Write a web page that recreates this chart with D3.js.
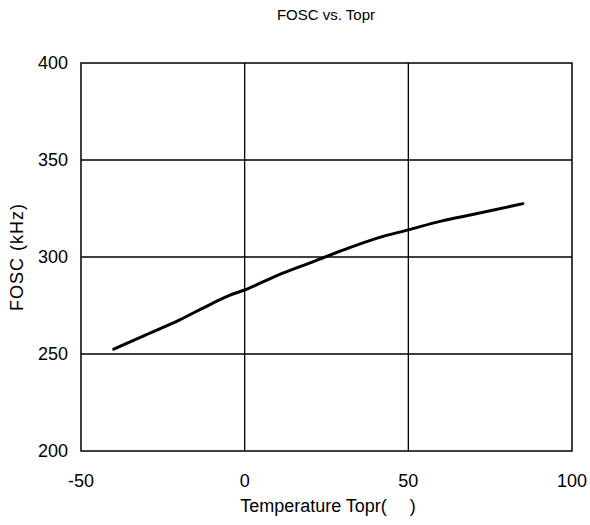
<!DOCTYPE html>
<html lang="en">
<head>
    <meta charset="UTF-8">
    <title>FOSC vs. Topr</title>
    <script src="https://d3js.org/d3.v7.min.js"></script>
    <style>
        body { margin: 0; background: #fff; font-family: 'Liberation Sans', Arial, sans-serif; }
        .grid line { stroke: #000; stroke-width: 1.3px; }
        .frame { fill: none; stroke: #000; stroke-width: 1.5px; }
        .line { fill: none; stroke: #000; stroke-width: 3px; stroke-linejoin: round; stroke-linecap: round; }
        .tick-label { font-size: 18px; fill: #000; }
    </style>
</head>
<body>
<svg id="chart" width="590" height="525"></svg>
<script>
    // data
    var temps = [-40, -30, -20, -10, -5, 0, 10, 20, 30, 40, 50, 60, 70, 85];
    var fosc  = [252.5, 260, 267.5, 276, 280, 283, 290.5, 297, 303.5, 309.5, 314, 318.5, 322, 327.5];
    var xTicks = [-50, 0, 50, 100];
    var yTicks = [200, 250, 300, 350, 400];

    var svg = d3.select("#chart"),
        margin = {top: 63, right: 18, bottom: 74, left: 81},
        width = +svg.attr("width") - margin.left - margin.right,
        height = +svg.attr("height") - margin.top - margin.bottom;

    var x = d3.scaleLinear().domain([-50, 100]).range([0, width]),
        y = d3.scaleLinear().domain([200, 400]).range([height, 0]);

    var g = svg.append("g").attr("transform", "translate(" + margin.left + "," + margin.top + ")");

    // grid
    var grid = g.append("g").attr("class", "grid");
    grid.selectAll(".vx").data(xTicks.slice(1, -1)).enter().append("line")
        .attr("x1", function(d) { return x(d); }).attr("x2", function(d) { return x(d); })
        .attr("y1", 0).attr("y2", height);
    grid.selectAll(".hy").data(yTicks.slice(1, -1)).enter().append("line")
        .attr("y1", function(d) { return y(d); }).attr("y2", function(d) { return y(d); })
        .attr("x1", 0).attr("x2", width);

    g.append("rect").attr("class", "frame").attr("width", width).attr("height", height);

    // tick labels
    g.selectAll(".xl").data(xTicks).enter().append("text")
        .attr("class", "tick-label")
        .attr("x", function(d) { return x(d); })
        .attr("y", height + 36)
        .attr("text-anchor", "middle")
        .text(function(d) { return d; });
    g.selectAll(".yl").data(yTicks).enter().append("text")
        .attr("class", "tick-label")
        .attr("x", -13)
        .attr("y", function(d) { return y(d); })
        .attr("dy", "0.35em")
        .attr("text-anchor", "end")
        .text(function(d) { return d; });

    // curve
    var line = d3.line()
        .x(function(d, i) { return x(temps[i]); })
        .y(function(d) { return y(d); })
        .curve(d3.curveMonotoneX);
    g.append("path").datum(fosc).attr("class", "line").attr("d", line);

    // titles
    svg.append("text").attr("x", 326).attr("y", 20)
        .attr("text-anchor", "middle").style("font-size", "15px").text("FOSC vs. Topr");
    svg.append("text").attr("x", 328).attr("y", 512)
        .attr("text-anchor", "middle").style("font-size", "18px").attr("xml:space", "preserve").text("Temperature Topr(\u2003 )");
    svg.append("text").attr("transform", "translate(23," + (margin.top + height / 2) + ") rotate(-90)")
        .attr("text-anchor", "middle").style("font-size", "18px").style("letter-spacing", "1px")
        .attr("xml:space", "preserve").text("FOSC (kHz)");
</script>
</body>
</html>
